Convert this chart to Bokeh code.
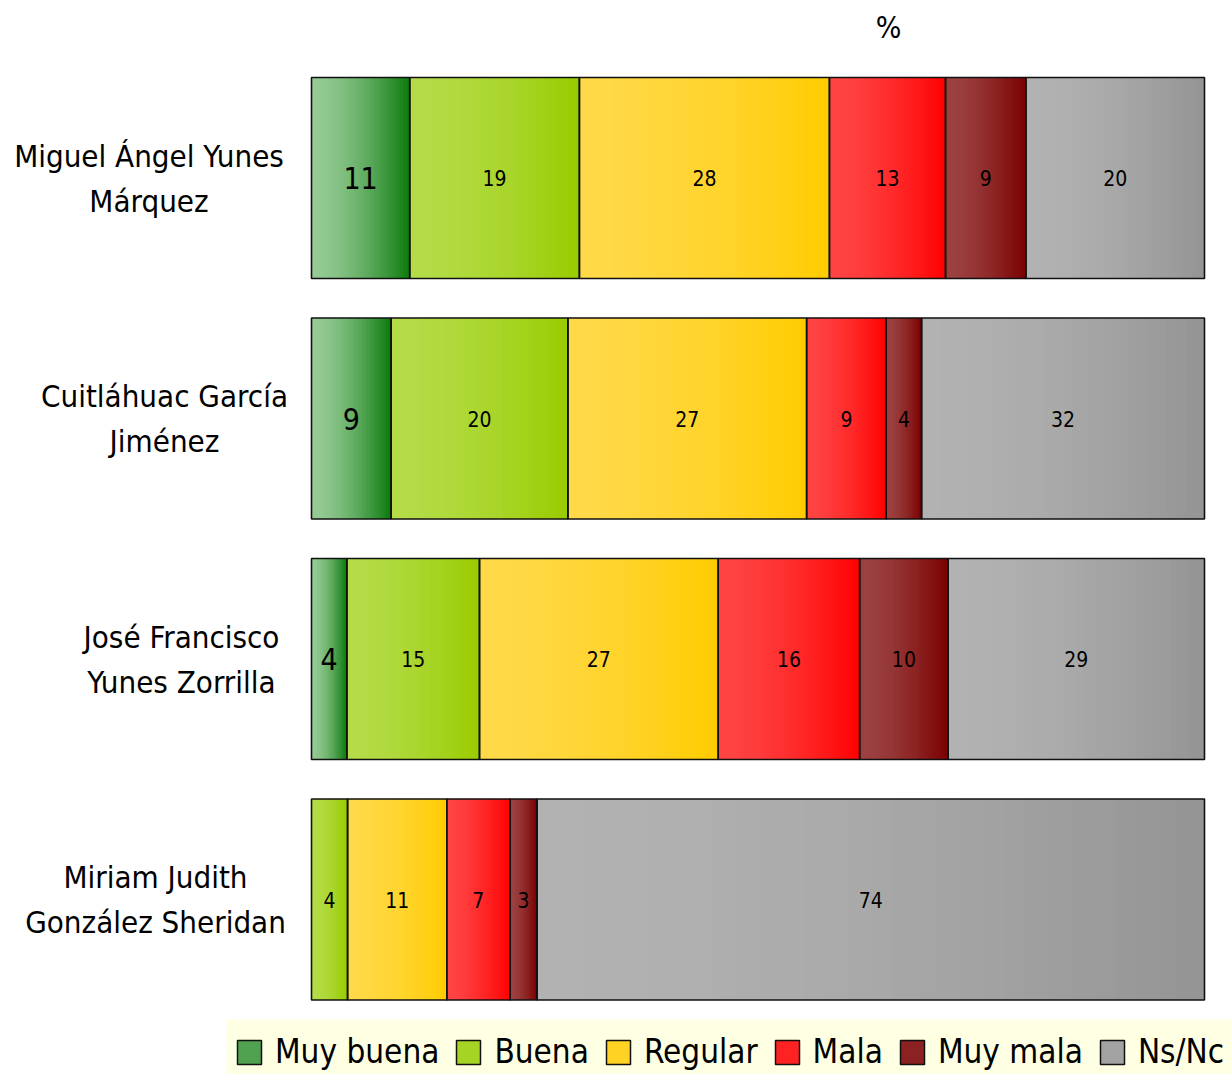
import numpy as np
from bokeh.plotting import figure
from bokeh.models import Range1d, Label, Legend, LegendItem, ColumnDataSource
from bokeh.embed import file_html
from bokeh.resources import INLINE
from bokeh.core.properties import value

# ---------------- data ----------------
names = ["Miguel Ángel Yunes\nMárquez",
         "Cuitláhuac García\nJiménez",
         "José Francisco\nYunes Zorrilla",
         "Miriam Judith\nGonzález Sheridan"]
categories = ["Muy buena", "Buena", "Regular", "Mala", "Muy mala", "Ns/Nc"]
muy_buena = [11, 9, 4, 0]
buena = [19, 20, 15, 4]
regular = [28, 27, 27, 11]
mala = [13, 9, 16, 7]
muy_mala = [9, 4, 10, 3]
ns_nc = [20, 32, 29, 74]
series = [muy_buena, buena, regular, mala, muy_mala, ns_nc]

# gradient colours (left light -> right dark)
light = [(0x96, 0xCB, 0x96), (0xB4, 0xDC, 0x48), (0xFF, 0xD9, 0x48),
         (0xFF, 0x44, 0x44), (0x9C, 0x42, 0x42), (0xB2, 0xB2, 0xB2)]
dark = [(0x0B, 0x7A, 0x0B), (0x99, 0xCC, 0x00), (0xFF, 0xCC, 0x00),
        (0xFF, 0x00, 0x00), (0x7A, 0x00, 0x00), (0x94, 0x94, 0x94)]

FONT = "DejaVu Sans Condensed"
W, H = 1231, 1074
PX0, PX1 = 311, 1204          # pixel span of the 0..1 bar
ROW0, ROWSTEP = 177.5, 240.5   # pixel centre of first row, row step
BAR_H = 201 / ROWSTEP
NSTRIP = 30

sx = (PX1 - PX0)
x_range = Range1d(-PX0 / sx, 1 + (W - PX1) / sx)
y_range = Range1d(-(H - ROW0) / ROWSTEP, ROW0 / ROWSTEP)

p = figure(width=W, height=H, x_range=x_range, y_range=y_range,
           x_axis_type=None, y_axis_type=None, toolbar_location=None,
           output_backend="svg", min_border=0, outline_line_color=None)
p.grid.visible = False

totals = np.sum(np.array(series, dtype=float), axis=0)
ys = -np.arange(len(names), dtype=float)

def hexcol(c):
    return "#%02x%02x%02x" % tuple(int(round(v)) for v in c)

# legend background band
LEG_X, LEG_TOP = 226, 55
p.quad(left=[(LEG_X - PX0) / sx], right=[x_range.end],
       bottom=[y_range.start], top=[y_range.start + LEG_TOP / ROWSTEP],
       fill_color="#FFFFE3", line_color=None)

border = dict(left=[], right=[], top=[], bottom=[])
lab_big = dict(x=[], y=[], text=[])
lab = dict(x=[], y=[], text=[])
left = np.zeros(len(names))
for k, vals in enumerate(series):
    frac = np.array(vals, dtype=float) / totals
    strips = dict(left=[], right=[], top=[], bottom=[], color=[])
    for r in range(len(names)):
        l0, w = left[r], frac[r]
        for s in range(NSTRIP):
            t = (s + 0.5) / NSTRIP
            f = t ** 1.6
            c = [light[k][j] + (dark[k][j] - light[k][j]) * f for j in range(3)]
            strips["left"].append(l0 + w * s / NSTRIP)
            strips["right"].append(l0 + w)
            strips["top"].append(ys[r] + BAR_H / 2)
            strips["bottom"].append(ys[r] - BAR_H / 2)
            strips["color"].append(hexcol(c))
        if vals[r] > 0:
            border["left"].append(l0)
            border["right"].append(l0 + w)
            border["top"].append(ys[r] + BAR_H / 2)
            border["bottom"].append(ys[r] - BAR_H / 2)
            d = lab_big if k == 0 else lab
            d["x"].append(l0 + w / 2)
            d["y"].append(ys[r])
            d["text"].append(str(vals[r]))
    p.quad(left="left", right="right", top="top", bottom="bottom",
           fill_color="color", line_color=None, source=ColumnDataSource(strips))
    left = left + frac

p.quad(left="left", right="right", top="top", bottom="bottom", fill_color=None,
       line_color="#111111", line_width=1.6, source=ColumnDataSource(border))

p.text(x="x", y="y", text="text", source=ColumnDataSource(lab),
       text_font=value(FONT), text_font_size="21px", text_align="center",
       text_baseline="middle", text_color="#000000")
p.text(x="x", y="y", text="text", source=ColumnDataSource(lab_big),
       text_font=value(FONT), text_font_size="30px", text_align="center",
       text_baseline="middle", text_color="#000000")

# category labels
label_cx = [148.5, 164, 181, 155]
for r, nm in enumerate(names):
    p.add_layout(Label(x=label_cx[r], x_units="screen", y=ys[r], text=nm,
                       text_font=FONT, text_font_size="31px", text_align="center",
                       text_baseline="middle", text_line_height=1.25,
                       text_color="#000000"))

p.add_layout(Label(x=888, x_units="screen", y=H - 27, y_units="screen", text="%",
                   text_font=FONT, text_font_size="30px", text_align="center",
                   text_baseline="middle", text_color="#000000"))

# legend swatches (styling only, nothing drawn in the plot)
swatches = []
for k in range(len(categories)):
    mid = [(light[k][j] + dark[k][j]) / 2 for j in range(3)]
    src = ColumnDataSource(dict(left=[np.nan], right=[np.nan], top=[np.nan], bottom=[np.nan]))
    swatches.append(p.quad(left="left", right="right", top="top", bottom="bottom", source=src,
                           fill_color=hexcol(mid), line_color="#111111", line_width=1.5))
items = [LegendItem(label=categories[k], renderers=[swatches[k]])
         for k in range(len(categories))]
legend = Legend(items=items, orientation="horizontal", location=(234, 3),
                background_fill_alpha=0.0, border_line_color=None,
                glyph_width=30, glyph_height=30,
                label_text_font=FONT, label_text_font_size="33px",
                label_text_color="#000000",
                label_standoff=11, spacing=14, padding=0, margin=0)
p.add_layout(legend)

open("out.html", "w").write(file_html(p, INLINE))
